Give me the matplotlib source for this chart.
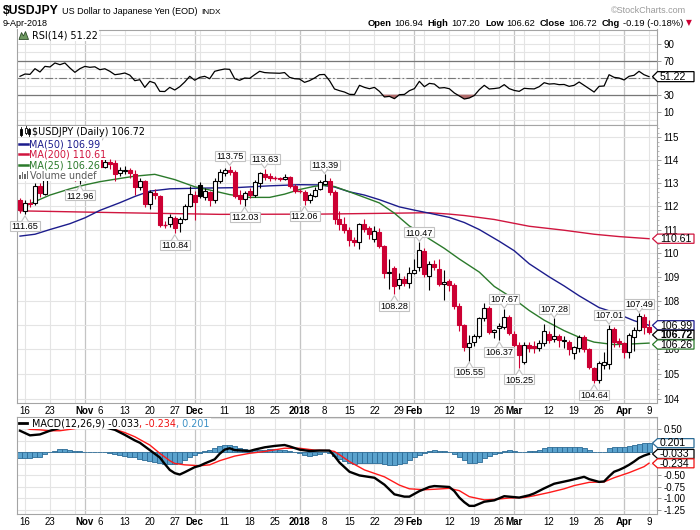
import numpy as np
import matplotlib
matplotlib.use("Agg")
import matplotlib.pyplot as plt
from matplotlib import font_manager as fm
from matplotlib.patches import Rectangle, Polygon
from matplotlib.lines import Line2D
from matplotlib.transforms import IdentityTransform
from matplotlib.ticker import FixedLocator, FixedFormatter, NullFormatter

plt.rcParams['font.family'] = ['Liberation Sans', 'DejaVu Sans']

# ---------------------------------------------------------------- data
prev_close0 = 112.27
open_ = [112.27,111.80,112.15,112.12,112.88,112.52,113.50,113.44,113.90,113.68,
         114.07,113.68,113.15,113.66,114.11,114.02,114.04,113.70,113.93,113.87,
         113.45,113.52,113.56,113.40,112.85,113.10,112.10,112.55,112.45,111.20,
         111.22,111.50,111.27,111.45,112.00,112.50,112.90,112.38,112.60,112.25,
         113.08,113.45,113.55,113.48,112.48,112.32,112.64,112.50,113.00,113.38,
         113.30,113.22,113.20,113.18,113.25,112.87,112.66,112.60,112.25,112.45,
         112.75,112.98,113.07,112.62,111.45,111.22,110.98,110.55,110.45,111.25,
         111.05,110.60,110.88,110.30,109.18,109.38,108.65,108.93,108.75,109.15,
         109.40,110.10,109.05,109.55,109.35,108.72,108.83,108.65,107.80,107.00,
         106.10,106.30,106.55,107.28,107.72,106.70,106.88,106.92,107.32,106.65,
         106.20,105.50,106.20,106.15,106.05,106.25,106.62,106.42,106.55,106.34,
         106.30,105.86,106.05,106.50,106.00,105.25,104.75,105.35,105.40,106.85,
         106.35,106.27,105.88,106.50,106.80,107.35,106.94]
high = [112.35,112.25,112.33,113.00,113.00,113.57,113.90,114.05,114.05,114.20,
        114.45,113.75,113.73,114.25,114.20,114.44,114.73,114.34,114.05,114.00,
        113.68,113.75,113.65,113.55,113.20,113.15,112.70,112.75,112.50,111.35,
        111.65,111.60,111.55,112.10,112.88,112.65,113.05,112.80,112.65,113.20,
        113.60,113.65,113.75,113.55,112.70,112.65,112.80,113.15,113.50,113.63,
        113.42,113.30,113.28,113.38,113.30,112.95,112.75,112.70,112.55,112.82,
        113.15,113.39,113.20,112.70,111.78,111.55,111.10,110.70,111.30,111.45,
        111.15,111.15,111.05,110.35,109.75,109.45,109.18,109.05,109.40,109.75,
        110.47,110.22,109.65,109.70,109.77,109.28,108.90,108.75,107.90,107.05,
        106.60,106.62,107.35,107.90,107.78,106.85,107.10,107.67,107.40,106.75,
        106.30,106.30,106.30,106.35,106.40,107.05,106.75,107.28,106.65,106.55,
        106.40,106.15,106.61,106.60,106.05,105.30,105.55,105.90,107.01,106.90,
        106.45,106.30,106.68,106.90,107.49,107.45,107.20]
low = [111.69,111.65,111.95,112.05,112.40,112.47,113.35,113.20,113.25,113.45,
       113.55,113.08,112.96,113.60,113.65,113.85,113.60,113.65,113.60,113.09,
       113.30,113.40,113.20,112.48,112.70,111.95,111.90,112.30,111.10,111.05,
       111.10,110.84,110.88,111.40,111.95,111.40,112.35,112.25,112.00,112.15,
       113.00,113.30,113.35,112.35,112.10,112.03,112.35,112.40,112.80,113.15,
       113.10,113.12,113.08,113.12,112.80,112.55,112.55,112.06,112.15,112.38,
       112.70,112.90,112.50,111.25,111.00,110.85,110.30,110.30,110.18,110.88,
       110.60,110.45,110.22,108.95,108.50,108.28,108.50,108.60,108.55,109.10,
       109.25,108.98,108.45,109.30,108.62,108.05,108.40,107.65,106.75,105.95,
       105.55,106.15,106.45,107.18,106.65,106.45,106.37,106.85,106.60,106.10,
       105.25,105.40,105.90,105.85,105.95,106.15,106.25,106.30,106.10,106.05,
       105.78,105.62,105.90,105.90,105.20,104.64,104.65,105.20,105.20,106.10,
       106.10,105.66,105.65,105.95,106.75,106.65,106.62]
close = [111.83,112.15,112.10,112.88,112.55,113.50,113.44,113.90,113.68,114.07,
         113.68,113.15,113.66,114.11,114.02,114.06,113.71,113.93,113.85,113.40,
         113.55,113.56,113.45,112.85,113.09,112.11,112.62,112.47,111.21,111.20,
         111.52,111.08,111.45,112.00,112.52,112.20,112.45,112.65,112.25,113.10,
         113.50,113.55,113.48,112.45,112.30,112.58,112.48,113.05,113.42,113.25,
         113.22,113.20,113.17,113.28,112.87,112.66,112.64,112.25,112.47,112.72,
         113.05,113.07,112.60,111.43,111.22,110.98,110.55,110.47,111.22,111.02,
         110.80,110.92,110.30,109.15,109.22,108.62,108.93,108.76,109.15,109.30,
         110.15,109.12,109.55,109.43,108.70,108.78,108.65,107.80,107.00,106.10,
         106.25,106.55,107.28,107.72,106.70,106.78,106.95,107.32,106.68,106.20,
         105.76,106.20,106.08,106.05,106.25,106.75,106.40,106.57,106.38,106.40,
         106.00,106.09,106.50,106.00,105.30,104.75,105.45,105.50,106.85,106.30,
         106.27,105.90,106.60,106.80,107.37,106.91,106.72]

rsi = [51.6,54.3,53.9,60.6,56.7,63.3,62.6,67.3,65.3,67.3,
       61.4,56.3,60.6,63.3,62.2,62.8,59.4,60.5,57.5,53.5,
       54.3,55.5,53.0,46.5,47.6,38.6,45.7,43.7,33.9,33.7,
       38.6,35.5,39.4,44.9,51.6,47.0,50.4,51.6,48.8,57.5,
       59.0,60.2,59.8,48.8,46.9,49.6,49.2,53.5,57.5,56.0,
       55.6,55.4,55.2,56.0,50.4,48.8,48.4,44.5,46.5,49.6,
       53.5,53.8,46.5,36.7,34.7,33.1,30.4,30.2,41.0,38.6,
       37.0,38.6,33.9,27.3,28.0,25.3,30.0,30.3,34.7,37.1,
       45.7,39.4,43.3,42.5,37.8,38.3,37.0,32.0,28.5,24.9,
       26.1,29.0,35.9,41.0,36.7,37.2,38.0,41.8,37.1,35.0,
       33.9,37.5,37.0,36.8,39.4,44.1,42.5,42.9,41.8,42.0,
       39.8,41.0,44.9,41.0,37.1,33.1,39.8,40.2,53.5,50.4,
       49.6,47.3,51.6,52.8,57.5,53.5,51.22]

hist = [-0.12,-0.12,-0.12,-0.11,-0.10,-0.03,0.00,0.04,0.07,0.07,
        0.06,0.03,0.02,0.01,0.01,0.01,0.00,0.00,-0.02,-0.03,
        -0.05,-0.07,-0.09,-0.11,-0.14,-0.17,-0.19,-0.21,-0.24,-0.26,
        -0.26,-0.25,-0.22,-0.17,-0.11,-0.06,-0.02,0.03,0.06,0.09,
        0.13,0.16,0.17,0.14,0.10,0.08,0.06,0.05,0.05,0.06,
        0.07,0.07,0.06,0.05,0.03,0.01,-0.02,-0.06,-0.07,-0.06,
        -0.03,0.00,-0.02,-0.08,-0.14,-0.18,-0.22,-0.25,-0.24,-0.22,
        -0.22,-0.22,-0.24,-0.26,-0.27,-0.27,-0.25,-0.22,-0.17,-0.11,
        -0.05,-0.01,0.03,0.05,0.04,0.02,0.00,-0.04,-0.10,-0.16,
        -0.22,-0.23,-0.20,-0.12,-0.08,-0.04,-0.01,0.04,0.06,0.04,
        0.00,0.01,0.03,0.04,0.06,0.09,0.11,0.12,0.12,0.12,
        0.11,0.11,0.12,0.09,0.05,0.01,0.00,0.00,0.10,0.12,
        0.12,0.11,0.13,0.16,0.19,0.21,0.201]

macd_idx = [0,2,4,6,8,10,13,16,19,21,23,24,26,28,29,30,31,32,33,35,
            36,37,39,40,41,42,43,46,47,49,51,53,54,56,58,60,62,63,64,66,
            68,71,73,75,77,78,80,82,83,86,87,88,89,90,91,93,95,97,99,100,
            102,103,105,107,110,113,114,116,117,118,119,120,121,122,123,124,125,126]
macd_val = [0.47,0.37,0.39,0.47,0.53,0.56,0.57,0.57,0.49,0.38,0.26,0.21,0.05,-0.11,-0.25,-0.38,-0.45,-0.48,-0.43,-0.32,
            -0.29,-0.24,-0.15,-0.03,0.06,0.09,0.05,0.03,0.06,0.11,0.14,0.16,0.13,0.06,0.03,0.04,0.04,-0.08,-0.22,-0.42,
            -0.50,-0.55,-0.70,-0.91,-0.96,-0.96,-0.84,-0.75,-0.73,-0.75,-0.84,-0.98,-1.08,-1.16,-1.16,-1.07,-1.04,-0.95,-0.97,-0.98,
            -0.93,-0.89,-0.78,-0.68,-0.61,-0.53,-0.58,-0.64,-0.63,-0.52,-0.42,-0.38,-0.33,-0.27,-0.20,-0.12,-0.07,-0.033]
sig_idx = [0,2,4,6,8,10,13,16,19,21,23,26,28,29,30,31,33,36,38,40,
           43,46,49,53,56,59,62,63,64,66,69,73,76,78,81,83,86,88,90,93,
           95,98,101,103,106,109,111,114,117,119,122,125,126]
sig_val = [0.58,0.50,0.49,0.47,0.47,0.50,0.55,0.57,0.50,0.43,0.34,0.16,-0.02,-0.10,-0.18,-0.24,-0.27,-0.29,-0.27,-0.18,
           -0.08,-0.02,0.02,0.09,0.09,0.05,0.04,0.02,-0.05,-0.20,-0.38,-0.53,-0.71,-0.79,-0.81,-0.80,-0.78,-0.83,-0.96,-1.03,
           -1.02,-0.99,-0.98,-0.94,-0.87,-0.79,-0.72,-0.65,-0.64,-0.55,-0.44,-0.31,-0.234]

ma25_idx = [0,3,6,10,13,16,20,23,27,31,35,38,42,46,50,53,56,59,61,63,
            66,69,72,75,78,80,82,85,88,92,95,99,102,105,109,112,115,119,122,126]
ma25_val = [111.90,112.20,112.48,112.75,112.92,113.06,113.20,113.30,113.38,113.15,
            112.84,112.70,112.50,112.38,112.38,112.52,112.72,112.86,112.90,112.85,
            112.62,112.38,112.14,111.70,111.15,110.90,110.60,110.20,109.75,109.20,
            108.60,108.07,107.60,107.20,106.77,106.50,106.30,106.20,106.22,106.26]
ma50_idx = [0,3,6,10,13,16,20,23,26,30,36,43,50,56,60,63,66,69,72,76,
            79,82,86,89,92,96,99,102,106,109,112,116,119,123,126]
ma50_val = [110.72,110.80,111.00,111.25,111.50,111.82,112.15,112.42,112.65,112.75,
            112.78,112.80,112.88,112.93,112.92,112.83,112.62,112.48,112.28,111.97,
            111.83,111.70,111.52,111.30,111.00,110.50,110.10,109.55,109.00,108.62,
            108.21,107.72,107.52,107.18,106.99]
ma200_idx = [0,20,40,60,75,82,86,89,95,102,109,115,120,126]
ma200_val = [111.80,111.72,111.65,111.66,111.70,111.72,111.66,111.60,111.43,111.14,
             110.97,110.80,110.70,110.61]

callout_idx = [1,12,16,31,42,45,49,57,61,75,80,90,96,97,100,107,115,118,124]
callout_val = [111.65,112.96,114.73,110.84,113.75,112.03,113.63,112.06,113.39,108.28,
               110.47,105.55,106.37,107.67,105.25,107.28,104.64,107.01,107.49]
callout_side = ['low','low','high','low','high','low','high','low','high','low',
                'high','low','low','high','low','high','low','high','high']

tick_days = [1,6,13,16,21,26,31,35,41,46,51,56,61,66,71,76,79,86,91,96,99,106,111,116,121,126]
tick_labels = ['16','23','Nov','6','13','20','27','Dec','11','18','25','2018','8','15','22','29',
               'Feb','12','19','26','Mar','12','19','26','Apr','9']
month_labels = ['Nov','Dec','2018','Feb','Mar','Apr']
month_days = [13,35,56,79,99,121]
week_days = [1,6,11,16,21,26,31,36,41,46,51,56,61,66,71,76,81,86,91,96,101,106,111,116,121,126]

price_ticks = [104,105,106,107,108,109,110,111,112,113,114,115]
price_labels = ['104','105','106','','108','109','110','111','112','113','114','115']
rsi_ticks = [10,30,70,90]
macd_ticks = [0.50,0.25,0.00,-0.25,-0.50,-0.75,-1.00,-1.25]
macd_labels = ['0.50','','','','-0.50','-0.75','-1.00','-1.25']

# ---------------------------------------------------------------- fonts
_names = {f.name for f in fm.fontManager.ttflist}
if 'Liberation Sans Narrow' in _names:
    NARROW = ['Liberation Sans Narrow', 'DejaVu Sans']
    NS = 1.0
else:
    NARROW = ['Liberation Sans', 'DejaVu Sans']
    NS = 0.87

# ---------------------------------------------------------------- figure
W, H = 700, 530
fig = plt.figure(figsize=(W / 100, H / 100), dpi=100)
fig.patch.set_facecolor('white')
ID = IdentityTransform()
renderer = fig.canvas.get_renderer()

def rect(x0, y0, x1, y1):
    return [x0 / W, 1 - y1 / H, (x1 - x0) / W, (y1 - y0) / H]

ax_r = fig.add_axes(rect(17, 29.5, 657, 124.5))
ax_p = fig.add_axes(rect(17, 125, 657, 403.3))
ax_m = fig.add_axes(rect(17, 417, 657, 514.3))

GRID = '#e4e4e4'; MGRID = '#c4c4c4'; SPINE = '#a4a4a4'
RED = '#cc0033'; NAVY = '#1c1c8c'; CRIMSON = '#d0163f'; GREEN = '#2b7a2b'
STEEL = '#3a8fc4'
LEG = ['DejaVu Sans']

n = len(close)
xs = np.arange(n)

ax_p.set_yscale('log')
ax_r.set_ylim(-5.1, 106.7)
ax_p.set_ylim(103.83, 115.55)
ax_m.set_ylim(-1.343, 0.768)

for a in (ax_r, ax_p, ax_m):
    a.set_xlim(-0.6, 127.6)
    for s in a.spines.values():
        s.set_color(SPINE)
        s.set_linewidth(0.8)
    a.yaxis.tick_right()
    a.tick_params(axis='y', which='major', direction='out', length=3, width=0.6,
                  colors='#8a8a8a', labelcolor='black', labelsize=7, pad=1.5)
    a.tick_params(axis='x', length=0, labelsize=7, pad=2.2)
    for d in week_days:
        a.axvline(d, color=GRID, lw=0.8, zorder=0)
    for d in month_days:
        a.axvline(d, color=MGRID, lw=0.9, zorder=0)

# ---------------- RSI
for v in range(0, 101, 10):
    ax_r.axhline(v, color=GRID, lw=0.8, zorder=0)
ax_r.axhline(70, color='#777777', lw=0.9, zorder=1)
ax_r.axhline(30, color='#777777', lw=0.9, zorder=1)
ax_r.axhline(50, color='#777777', lw=0.8, ls=(0, (7, 2, 1.5, 2)), zorder=1)
r = np.array(rsi)
ax_r.fill_between(xs, r, 30, where=r < 30, interpolate=True, color='#b06b6b', lw=0, zorder=2)
ax_r.fill_between(xs, r, 70, where=r > 70, interpolate=True, color='#6b9a6b', lw=0, zorder=2)
ax_r.plot(xs, r, color='black', lw=0.9, zorder=3)
ax_r.set_yticks(rsi_ticks)
ax_r.set_yticklabels([str(v) for v in rsi_ticks])
ax_r.set_xticks([])

# ---------------- price panel
ax_p.yaxis.set_major_locator(FixedLocator(price_ticks))
ax_p.yaxis.set_major_formatter(FixedFormatter(price_labels))
ax_p.yaxis.set_minor_locator(FixedLocator(np.arange(103.8, 115.6, 0.2)))
ax_p.yaxis.set_minor_formatter(NullFormatter())
ax_p.tick_params(axis='y', which='minor', length=1.5, width=0.5, colors='#9a9a9a')
for v in price_ticks:
    ax_p.axhline(v, color=GRID, lw=0.8, zorder=0)

ax_p.plot(ma200_idx, ma200_val, color=CRIMSON, lw=1.0, zorder=2)
ax_p.plot(ma50_idx, ma50_val, color=NAVY, lw=1.0, zorder=2)
ax_p.plot(ma25_idx, ma25_val, color=GREEN, lw=1.0, zorder=2)

for i in range(n):
    o, hh, ll, c = open_[i], high[i], low[i], close[i]
    pc = prev_close0 if i == 0 else close[i - 1]
    col = 'black' if c >= pc else RED
    ax_p.vlines(i, ll, hh, color=col, lw=0.8, zorder=3)
    lo, hi = min(o, c), max(o, c)
    if hi - lo < 0.02:
        ax_p.hlines(c, i - 0.45, i + 0.45, color=col, lw=1.0, zorder=4)
    else:
        fc = 'white' if c > o else col
        ax_p.add_patch(Rectangle((i - 0.4, lo), 0.8, hi - lo, facecolor=fc,
                                 edgecolor=col, lw=0.8, zorder=4))

# ---------------- helpers for pixel placed text
def ptext(target, x, ybase, s, **kw):
    ha = kw.pop('ha', 'left')
    t = target.text(x, H - ybase, s, transform=ID, va='baseline', ha=ha,
                    clip_on=False, **kw)
    return t

def width(t):
    return t.get_window_extent(renderer=renderer).width

legend_boxes = []   # display-coordinate boxes covered by legend rows

def legend_row(ax, x, yc, parts, zorder=10):
    cur = x
    for s, col in parts:
        t = ptext(ax, cur, yc + 3.5, s, color=col, fontsize=6.9, family=LEG, zorder=zorder + 1)
        cur += width(t)
    x0, y0, w, h = 17.5, H - yc - 5.6, cur - 17.5 + 1.5, 11.2
    ax.add_artist(Rectangle((x0, y0), w, h, transform=ID,
                            facecolor='white', edgecolor='none', zorder=zorder, clip_on=False))
    legend_boxes.append((x0, y0, x0 + w, y0 + h))
    return cur

# price legend
legend_row(ax_p, 32, 131.8, [(f'$USDJPY (Daily) {close[-1]:.2f}', 'black')])
legend_row(ax_p, 29, 143.6, [(f'MA(50) {ma50_val[-1]:.2f}', NAVY)])
legend_row(ax_p, 29, 154.2, [(f'MA(200) {ma200_val[-1]:.2f}', CRIMSON)])
legend_row(ax_p, 29, 164.6, [(f'MA(25) {ma25_val[-1]:.2f}', GREEN)])
legend_row(ax_p, 30, 175.2, [('Volume undef', '#5a5a5a')])
for yc, col in [(143.6, NAVY), (154.2, CRIMSON), (164.6, GREEN)]:
    ax_p.add_artist(Line2D([19, 28], [H - yc, H - yc], transform=ID, color=col, lw=1.8,
                           zorder=12, clip_on=False))
for (x0, y0, hgt, fill) in [(20, 128.5, 6, True), (24.5, 127.5, 5, False), (28, 129, 5, True)]:
    ax_p.add_artist(Line2D([x0 + 1, x0 + 1], [H - y0 + 1.5, H - y0 - hgt - 1.5], transform=ID,
                           color='black', lw=0.6, zorder=12, clip_on=False))
    ax_p.add_artist(Rectangle((x0, H - y0 - hgt), 2, hgt, transform=ID,
                              facecolor='black' if fill else 'white', edgecolor='black', lw=0.6,
                              zorder=13, clip_on=False))
for (x0, hgt) in [(19, 4), (21.5, 7), (24, 5), (26.5, 8)]:
    ax_p.add_artist(Rectangle((x0, H - 179), 1.8, hgt, transform=ID, facecolor='#6a6a6a',
                              edgecolor='none', zorder=12, clip_on=False))

# callouts (those whose label falls under the legend only show the pointer)
def covered(xc, yc):
    return any(x0 <= xc <= x1 and y0 <= yc <= y1 for x0, y0, x1, y1 in legend_boxes)

for i, v, side in zip(callout_idx, callout_val, callout_side):
    px, py = ax_p.transData.transform((i, v))
    bw, bh = 30, 10
    if side == 'high':
        b0 = py + 4.5
        box = Rectangle((px - bw / 2, b0), bw, bh, transform=ID, facecolor='white',
                        edgecolor='#c2c2c2', lw=0.8, zorder=6, clip_on=False)
        tri = Polygon([(px - 3.5, b0 + 0.7), (px, py + 0.5), (px + 3.5, b0 + 0.7)], closed=False,
                      transform=ID, facecolor='white', edgecolor='#c2c2c2', lw=0.8, zorder=6.5,
                      clip_on=False)
        ty = b0 + bh / 2
    else:
        b1 = py - 6.5
        box = Rectangle((px - bw / 2, b1 - bh), bw, bh, transform=ID, facecolor='white',
                        edgecolor='#c2c2c2', lw=0.8, zorder=6, clip_on=False)
        tri = Polygon([(px - 3.5, b1 - 0.7), (px, py - 1.5), (px + 3.5, b1 - 0.7)], closed=False,
                      transform=ID, facecolor='white', edgecolor='#c2c2c2', lw=0.8, zorder=6.5,
                      clip_on=False)
        ty = b1 - bh / 2
    ax_p.add_artist(tri)
    if covered(px, ty):
        continue
    ax_p.add_artist(box)
    ax_p.text(px, ty - 3.1, f'{v:.2f}', transform=ID, ha='center', va='baseline',
              fontsize=6.6, zorder=7, clip_on=False)

# ---------------- MACD panel
for v in np.arange(-1.25, 0.76, 0.25):
    ax_m.axhline(v, color=GRID, lw=0.8, zorder=0)
ax_m.bar(xs, hist, width=1.0, color='#5aa2cd', edgecolor='#2c6b96', lw=0.6, zorder=2)
ax_m.plot(sig_idx, sig_val, color='#ff1a1a', lw=1.0, zorder=3)
ax_m.plot(macd_idx, macd_val, color='black', lw=1.7, zorder=4)
ax_m.set_yticks(macd_ticks)
ax_m.set_yticklabels(macd_labels)

for a in (ax_p, ax_m):
    a.set_xticks(tick_days)
    a.set_xticklabels(tick_labels)
    for lab, t in zip(a.get_xticklabels(), tick_labels):
        if t in month_labels:
            lab.set_fontweight('bold')

# RSI legend
legend_row(ax_r, 31.5, 35.0, [(f'RSI(14) {rsi[-1]:.2f}', 'black')])
ax_r.add_artist(Polygon([(19, H - 39.5), (21.5, H - 32.5), (23.5, H - 36), (25.5, H - 31.5),
                         (28.5, H - 39.5)], closed=True, transform=ID, facecolor='#6f9a62',
                        edgecolor='#2e4d2a', lw=0.6, zorder=12, clip_on=False))

# MACD legend
legend_row(ax_m, 31.5, 423.2, [(f'MACD(12,26,9) {macd_val[-1]:.3f}', 'black'),
                               (f', {sig_val[-1]:.3f}', '#ee1111'),
                               (f', {hist[-1]:.3f}', STEEL)])
ax_m.add_artist(Line2D([19, 27], [H - 423.2, H - 423.2], transform=ID, color='black', lw=2.0,
                       zorder=12, clip_on=False))

# ---------------- right-hand value boxes
def value_boxes(ax, items, h=9.6):
    ys = [ax.transData.transform((0, it[0]))[1] for it in items]
    order = np.argsort(ys)[::-1]
    last = None
    placed = {}
    for k in order:
        y = ys[k]
        if last is not None and y > last - h - 0.4:
            y = last - h - 0.4
        placed[k] = y
        last = y
    for k, (val, lab, ec, bold) in enumerate(items):
        y = placed[k]
        poly = Polygon([(652.5, y), (657.5, y + h / 2), (694, y + h / 2), (694, y - h / 2),
                        (657.5, y - h / 2)], closed=True, transform=ID, facecolor='white',
                       edgecolor=ec, lw=0.9, zorder=5)
        fig.add_artist(poly)
        fig.text(660, y - 3.3, lab, transform=ID, fontsize=7.6, va='baseline', ha='left',
                 fontweight='bold' if bold else 'normal', color='black', zorder=6)

value_boxes(ax_r, [(rsi[-1], f'{rsi[-1]:.2f}', 'black', False)], h=10)
value_boxes(ax_p, [(ma200_val[-1], f'{ma200_val[-1]:.2f}', CRIMSON, False),
                   (ma50_val[-1], f'{ma50_val[-1]:.2f}', NAVY, False),
                   (close[-1], f'{close[-1]:.2f}', 'black', True),
                   (ma25_val[-1], f'{ma25_val[-1]:.2f}', GREEN, False)], h=9.2)
value_boxes(ax_m, [(hist[-1], f'{hist[-1]:.3f}', '#2c6b96', False),
                   (macd_val[-1], f'{macd_val[-1]:.3f}', 'black', False),
                   (sig_val[-1], f'{sig_val[-1]:.3f}', '#ee1111', False)], h=9)

# ---------------- header
t1 = ptext(fig, 3, 14.2, '$USDJPY', fontsize=10.2 * NS, fontweight='bold', family=NARROW)
x = 3 + width(t1) + 3
t2 = ptext(fig, x, 13.6, 'US Dollar to Japanese Yen (EOD)', fontsize=7.4 * NS, family=NARROW)
x += width(t2) + 4
ptext(fig, x, 13.6, 'INDX', fontsize=6.8 * NS, family=NARROW)
ptext(fig, 3, 26.2, '9-Apr-2018', fontsize=7.4 * NS, family=NARROW)
ptext(fig, 686, 13.2, '\u00a9StockCharts.com', fontsize=7.4 * NS, family=NARROW,
      color='#9a9a9a', ha='right')

chg = close[-1] - close[-2]
pct = chg / close[-2] * 100
pieces = [('Open', True), (f'{open_[-1]:.2f}', False), ('High', True), (f'{high[-1]:.2f}', False),
          ('Low', True), (f'{low[-1]:.2f}', False), ('Close', True), (f'{close[-1]:.2f}', False),
          ('Chg', True), (f'{chg:.2f} ({pct:.2f}%)', False)]
objs = [ptext(fig, 0, 26.2, s, fontsize=7.8 * NS, family=NARROW,
              fontweight='bold' if b else 'normal') for s, b in pieces]
gaps = [2.5 if k % 2 == 0 else 5 for k in range(len(pieces))]
total = sum(width(t) for t in objs) + sum(gaps[:-1])
cur = 683 - total
for k, t in enumerate(objs):
    t.set_x(cur)
    cur += width(t) + gaps[k]
ptext(fig, 685.5, 25.5, '\u25bc', fontsize=5.5, family=['DejaVu Sans'], color=RED)

fig.savefig('out.png', dpi=100, facecolor='white')
